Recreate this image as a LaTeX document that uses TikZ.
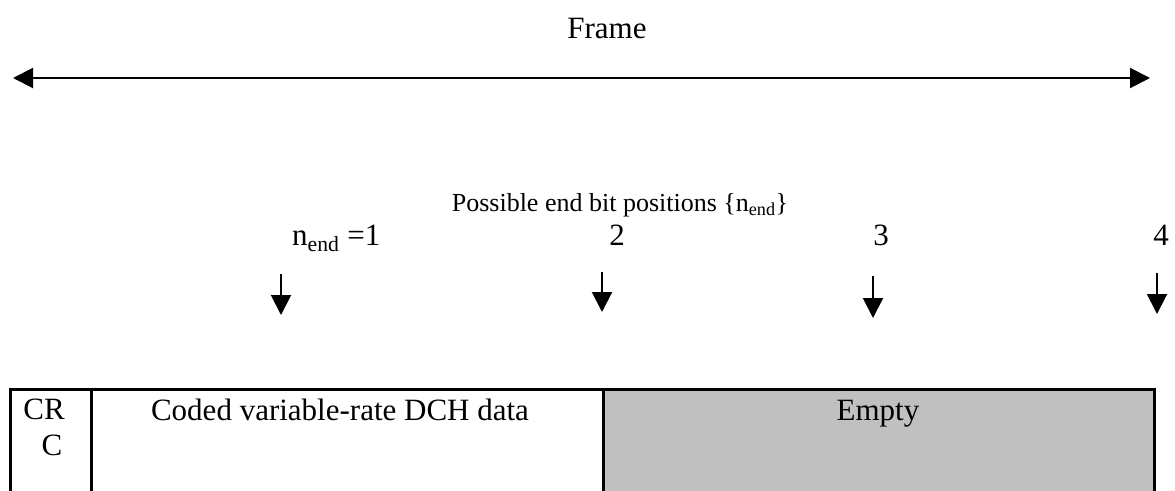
\documentclass[tikz,border=0pt]{standalone}
\usepackage{fontspec}
\setmainfont{Liberation Serif}
\usetikzlibrary{arrows.meta}
\definecolor{emptygray}{HTML}{C0C0C0}
\begin{document}
\begin{tikzpicture}[x=1pt,y=-1pt,
  txt/.style={inner sep=0pt,font=\fontsize{31}{35.5}\selectfont},
  smalltxt/.style={inner sep=0pt,font=\fontsize{26}{30}\selectfont},
  framearrow/.style={line width=2pt,{Triangle[length=20pt,width=20pt]}-{Triangle[length=20pt,width=20pt]}},
  downarrow/.style={line width=2pt,-{Triangle[length=20pt,width=20pt]}},
  cellline/.style={line width=3pt}]
\useasboundingbox (0,0) rectangle (1175,490);
% frame
\node[txt,anchor=base] (frame) at (607,38) {Frame};
\coordinate (fl) at (13,78);
\coordinate (fr) at (1150,78);
\draw[framearrow] (fl) -- (fr);
% labels
\node[smalltxt,anchor=base] (poss) at (620,211) {Possible end bit positions \{n\textsubscript{end}\}};
\node[txt,anchor=base west] (l1) at (292,245) {n\textsubscript{end} =1};
\node[txt,anchor=base] (l2) at (617,245) {2};
\node[txt,anchor=base] (l3) at (881,245) {3};
\node[txt,anchor=base] (l4) at (1161,245) {4};
% down arrows
\coordinate (a1s) at (281,274); \coordinate (a1e) at (281,315);
\coordinate (a2s) at (602,272); \coordinate (a2e) at (602,312);
\coordinate (a3s) at (873,276); \coordinate (a3e) at (873,318);
\coordinate (a4s) at (1157,273); \coordinate (a4e) at (1157,314);
\draw[downarrow] (a1s) -- (a1e);
\draw[downarrow] (a2s) -- (a2e);
\draw[downarrow] (a3s) -- (a3e);
\draw[downarrow] (a4s) -- (a4e);
% table
\fill[emptygray] (603,389) rectangle (1154,492);
\draw[cellline] (10,389) -- (1154,389);
\draw[cellline] (10,387.5) -- (10,492);
\draw[cellline] (91,387.5) -- (91,492);
\draw[cellline] (603,387.5) -- (603,492);
\draw[cellline] (1154,387.5) -- (1154,492);
\node[txt,anchor=base,align=center] (crc) at (50.5,455) {CR\kern13pt\\\kern3pt C};
\node[txt,anchor=base] (coded) at (340,420) {Coded variable-rate DCH data};
\node[txt,anchor=base] (empty) at (878,420) {Empty};
\end{tikzpicture}
\end{document}
